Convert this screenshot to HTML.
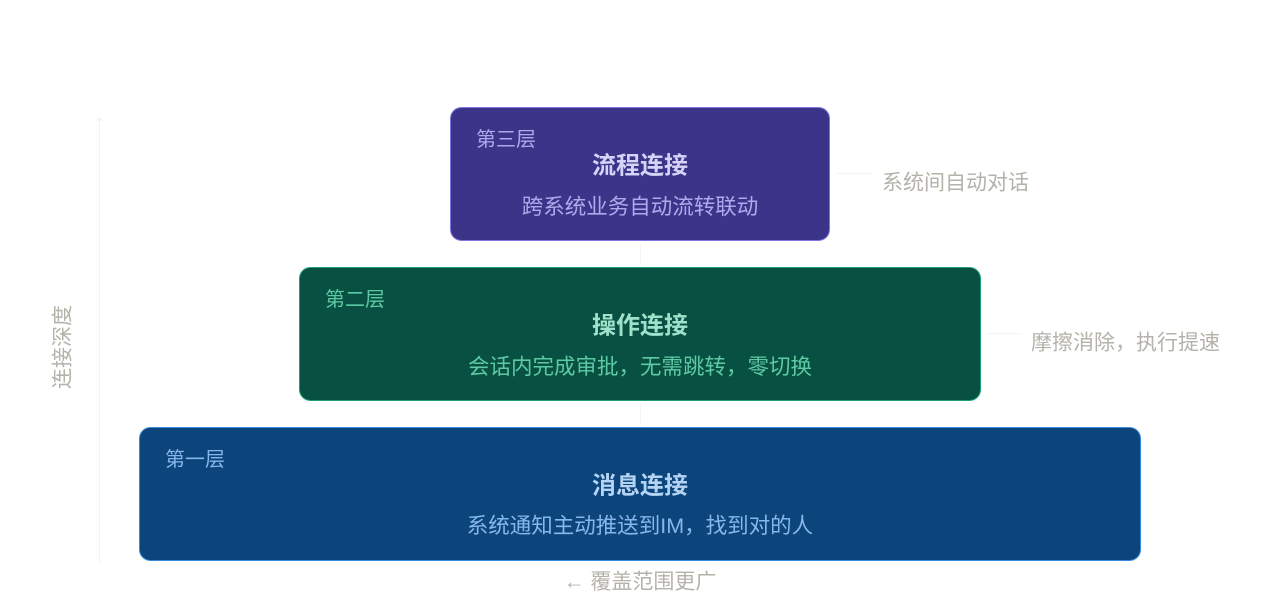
<!DOCTYPE html>
<html>
<head>
<meta charset="utf-8">
<style>
  html,body{margin:0;padding:0;background:#ffffff;}
  body{width:1280px;height:613px;overflow:hidden;}
  svg{display:block;}
  text{font-family:"Liberation Sans","Noto Sans CJK SC",sans-serif;}
</style>
</head>
<body>
<svg width="1280" height="613" viewBox="0 0 1280 613" xmlns="http://www.w3.org/2000/svg">
  <defs>
    <marker id="ah" markerWidth="8" markerHeight="8" refX="4" refY="4" orient="auto">
      <path d="M1,1 L4,4 L1,7" fill="none" stroke="#f0eee8" stroke-width="1"/>
    </marker>
  </defs>

  <!-- vertical axis -->
  <line x1="99.5" y1="562" x2="99.5" y2="118" stroke="#f3f2ed" stroke-width="1" marker-end="url(#ah)"/>
  <text x="63" y="347" transform="rotate(-90 63 347)" text-anchor="middle" dominant-baseline="central" font-size="21" fill="#b4b2a9">连接深度</text>

  <!-- vertical connectors between boxes -->
  <line x1="640.5" y1="425" x2="640.5" y2="404" stroke="#f5f4f0" stroke-width="1"/>
  <line x1="640.5" y1="265" x2="640.5" y2="244" stroke="#f5f4f0" stroke-width="1"/>

  <!-- Box 3 -->
  <rect x="450.5" y="107.5" width="379" height="133" rx="11" ry="11" fill="#3c3489" stroke="#7f77dd" stroke-width="1"/>
  <text x="476" y="140" font-size="20" fill="#afa9ec" dominant-baseline="central">第三层</text>
  <text x="640" y="166" text-anchor="middle" font-size="24" font-weight="bold" fill="#d6d3f8" dominant-baseline="central">流程连接</text>
  <text x="640" y="207" text-anchor="middle" font-size="21.5" fill="#afa9ec" dominant-baseline="central">跨系统业务自动流转联动</text>

  <!-- Box 2 -->
  <rect x="299.5" y="267.5" width="681" height="133" rx="11" ry="11" fill="#085041" stroke="#1d9e75" stroke-width="1"/>
  <text x="325" y="300" font-size="20" fill="#5dcaa5" dominant-baseline="central">第二层</text>
  <text x="640" y="326" text-anchor="middle" font-size="24" font-weight="bold" fill="#9fe1cb" dominant-baseline="central">操作连接</text>
  <text x="640" y="367" text-anchor="middle" font-size="21.5" fill="#5dcaa5" dominant-baseline="central">会话内完成审批，无需跳转，零切换</text>

  <!-- Box 1 -->
  <rect x="139.5" y="427.5" width="1001" height="133" rx="11" ry="11" fill="#0c447c" stroke="#378add" stroke-width="1"/>
  <text x="165" y="460" font-size="20" fill="#85b7eb" dominant-baseline="central">第一层</text>
  <text x="640" y="486" text-anchor="middle" font-size="24" font-weight="bold" fill="#b5d4f4" dominant-baseline="central">消息连接</text>
  <text x="640" y="526" text-anchor="middle" font-size="21.5" fill="#85b7eb" dominant-baseline="central">系统通知主动推送到IM，找到对的人</text>

  <!-- side connectors and labels -->
  <line x1="836" y1="173.5" x2="872" y2="173.5" stroke="#f5f4f0" stroke-width="1"/>
  <text x="882" y="183" font-size="21" fill="#b4b2a9" dominant-baseline="central">系统间自动对话</text>

  <line x1="987" y1="333.5" x2="1022" y2="333.5" stroke="#f5f4f0" stroke-width="1"/>
  <text x="1031" y="343" font-size="21" fill="#b4b2a9" dominant-baseline="central">摩擦消除，执行提速</text>

  <text x="640" y="582" text-anchor="middle" font-size="21" fill="#b4b2a9" dominant-baseline="central">← 覆盖范围更广</text>
</svg>
</body>
</html>
